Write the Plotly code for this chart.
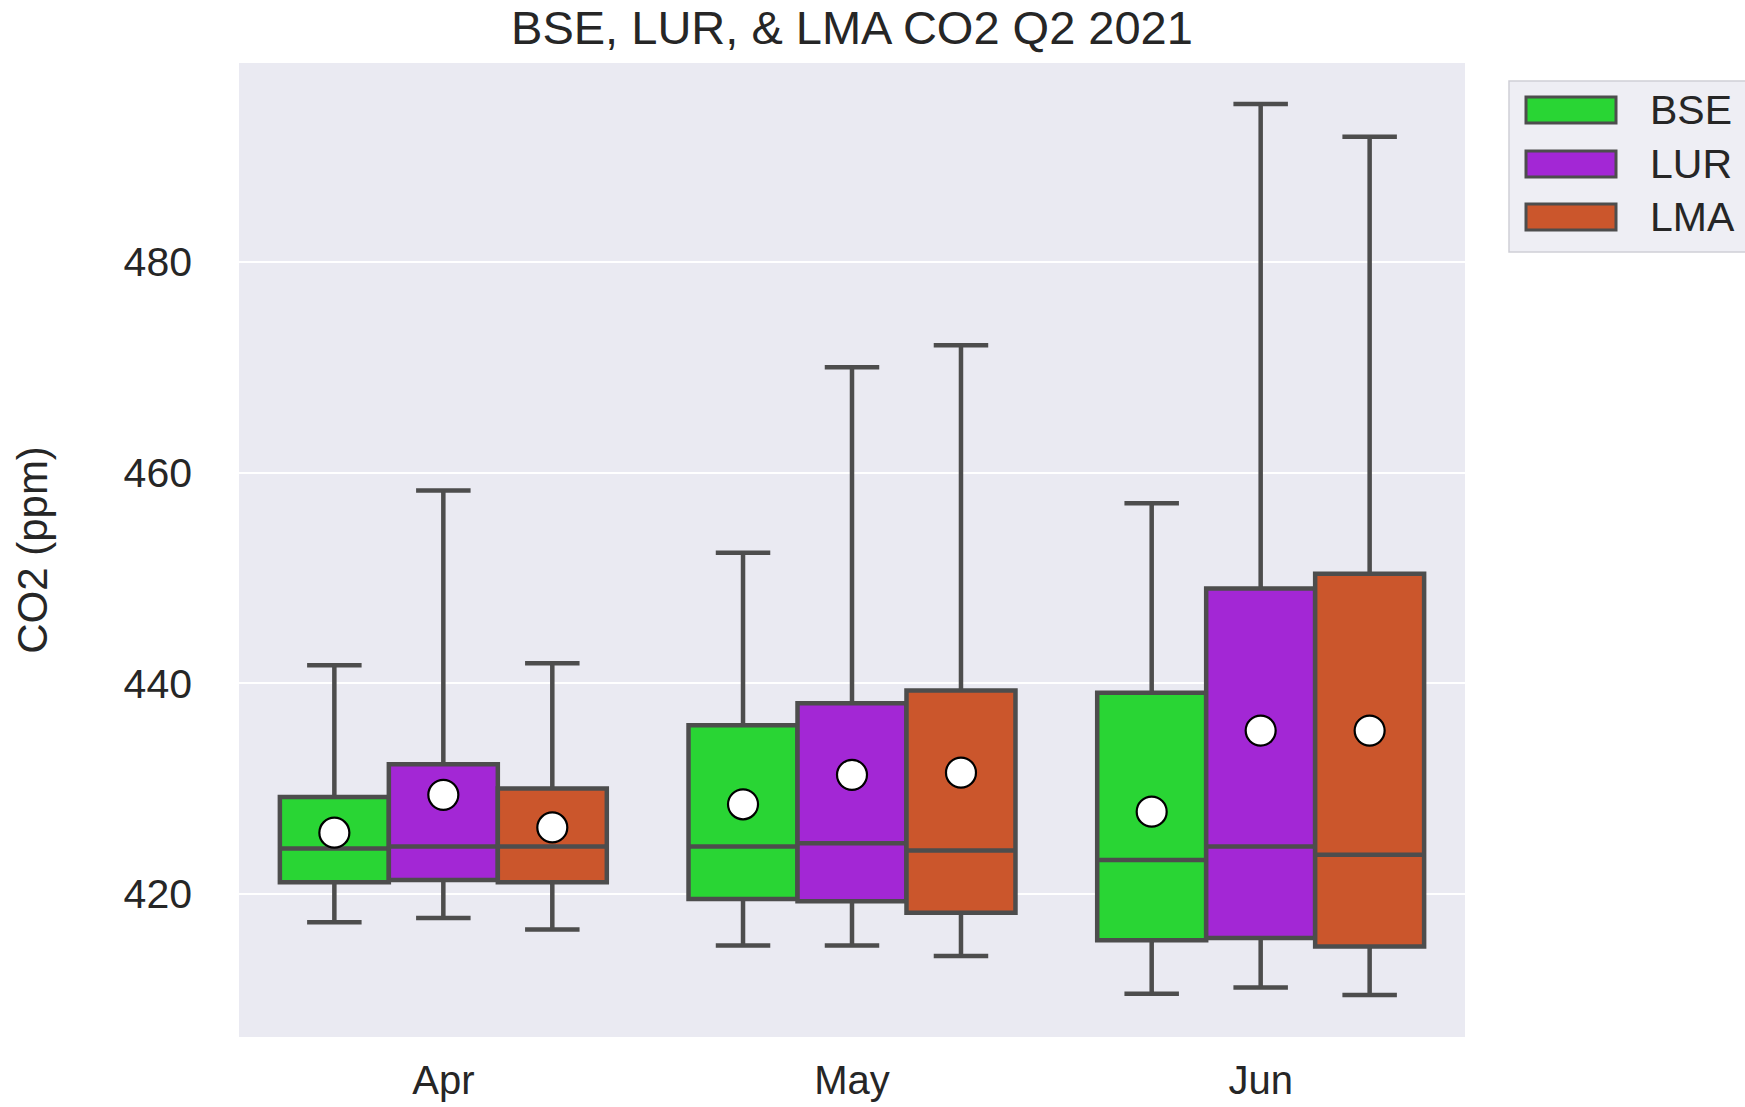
import plotly.graph_objects as go

# ---------------- data ----------------
months = ["Apr", "May", "Jun"]
sites = ["BSE", "LUR", "LMA"]
colors = ["#29D534", "#A327D5", "#CB562C"]

lower_whisker = {
    "BSE": [417.3, 415.1, 410.5],
    "LUR": [417.7, 415.1, 411.1],
    "LMA": [416.6, 414.1, 410.4],
}
q1 = {
    "BSE": [421.1, 419.5, 415.6],
    "LUR": [421.3, 419.3, 415.8],
    "LMA": [421.1, 418.2, 415.0],
}
median = {
    "BSE": [424.3, 424.5, 423.2],
    "LUR": [424.5, 424.8, 424.5],
    "LMA": [424.5, 424.1, 423.7],
}
q3 = {
    "BSE": [429.2, 436.0, 439.1],
    "LUR": [432.3, 438.1, 449.0],
    "LMA": [430.0, 439.3, 450.4],
}
upper_whisker = {
    "BSE": [441.7, 452.4, 457.1],
    "LUR": [458.3, 470.0, 495.0],
    "LMA": [441.9, 472.1, 491.9],
}
mean = {
    "BSE": [425.8, 428.5, 427.8],
    "LUR": [429.4, 431.3, 435.5],
    "LMA": [426.3, 431.5, 435.5],
}
y_ticks = [420, 440, 460, 480]

# ---------------- layout constants ----------------
W, H = 1745, 1107
L, R, T, B = 239, 1465, 63, 1037   # plot area in window pixels
FONT = "Arial, Liberation Sans, sans-serif"
TXT = "#262626"
EDGE = "#4d4d4d"

group_width = 0.8
n = len(sites)
bw = group_width / n

fig = go.Figure()
for i, s in enumerate(sites):
    off = -group_width / 2 + bw * (i + 0.5)
    xs = [k + off for k in range(len(months))]
    fig.add_trace(go.Box(
        x=xs,
        q1=q1[s], median=median[s], q3=q3[s],
        lowerfence=lower_whisker[s], upperfence=upper_whisker[s],
        width=bw,
        fillcolor=colors[i],
        line=dict(color=EDGE, width=4.5),
        whiskerwidth=0.5,
        boxpoints=False,
        name=s,
        showlegend=False,
    ))
for i, s in enumerate(sites):
    off = -group_width / 2 + bw * (i + 0.5)
    xs = [k + off for k in range(len(months))]
    fig.add_trace(go.Scatter(
        x=xs, y=mean[s], mode="markers",
        marker=dict(symbol="circle", size=30, color="white",
                    line=dict(color="black", width=2.2)),
        showlegend=False, name=s + " mean",
    ))

# ---- manual legend (seaborn style patches) ----
def px_x(p):
    return (p - L) / (R - L)

def px_y(p):
    return (B - p) / (B - T)

shapes = [dict(type="rect", xref="paper", yref="paper",
               x0=px_x(1509), x1=px_x(1770), y0=px_y(252), y1=px_y(81),
               fillcolor="#EEEEF4", line=dict(color="#CFCFD6", width=1.5),
               layer="above")]
annotations = []
centers = [110, 164, 217]
for i, s in enumerate(sites):
    cy = centers[i]
    shapes.append(dict(type="rect", xref="paper", yref="paper",
                       x0=px_x(1526), x1=px_x(1616), y0=px_y(cy + 13), y1=px_y(cy - 13),
                       fillcolor=colors[i], line=dict(color=EDGE, width=3),
                       layer="above"))
    annotations.append(dict(xref="paper", yref="paper", x=px_x(1648), y=px_y(cy),
                            xanchor="left", yanchor="middle", text=s, showarrow=False,
                            font=dict(family=FONT, size=41, color=TXT)))

fig.update_layout(
    width=W, height=H,
    margin=dict(l=L, r=W - R, t=T, b=H - B, autoexpand=False),
    paper_bgcolor="white",
    plot_bgcolor="#EAEAF2",
    boxmode="overlay",
    title=dict(text="BSE, LUR, & LMA CO2 Q2 2021", x=0.5, xref="paper",
               y=1 - 28 / H, yref="container", yanchor="middle",
               xanchor="center",
               font=dict(family=FONT, size=47, color=TXT)),
    font=dict(family=FONT, color=TXT),
    shapes=shapes,
    annotations=annotations,
    showlegend=False,
)
fig.update_xaxes(
    range=[-0.5, len(months) - 0.5],
    tickvals=list(range(len(months))), ticktext=months,
    showgrid=False, zeroline=False, showline=False, ticks="",
    tickfont=dict(family=FONT, size=40, color=TXT),
    ticklabelstandoff=16,
)
fig.update_yaxes(
    range=[406.4, 498.9],
    tickvals=y_ticks,
    showgrid=True, gridcolor="white", gridwidth=2,
    zeroline=False, showline=False, ticks="",
    tickfont=dict(family=FONT, size=41, color=TXT),
    ticklabelstandoff=46,
    title=dict(text="CO2 (ppm)", standoff=62,
               font=dict(family=FONT, size=42, color=TXT)),
)

fig.write_html(
    "out.html",
    config={"displayModeBar": False},
    post_script="document.body.style.margin='0';document.body.style.overflow='hidden';",
)
